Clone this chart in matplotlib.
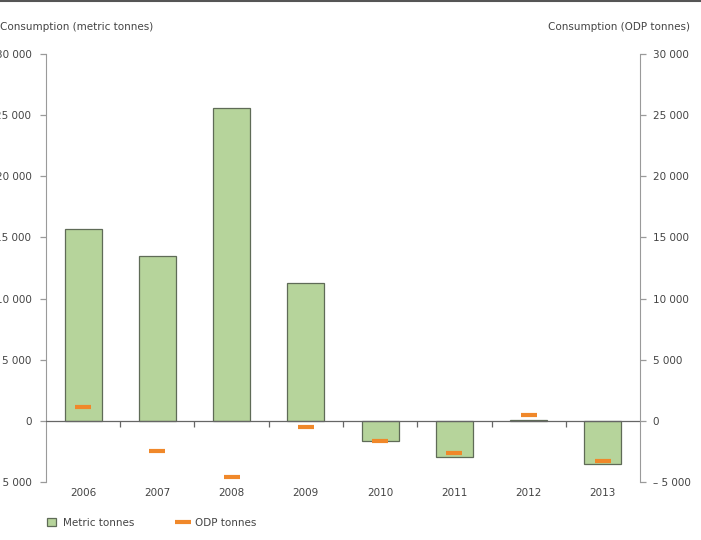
import matplotlib
matplotlib.use('Agg')
import matplotlib.pyplot as plt
import matplotlib.ticker as mticker
from matplotlib.patches import Patch
from matplotlib.lines import Line2D
import numpy as np

# data
years = ['2006', '2007', '2008', '2009', '2010', '2011', '2012', '2013']
metric_tonnes = [15700, 13500, 25600, 11300, -1650, -2950, 50, -3500]
odp_tonnes = [1150, -2450, -4600, -480, -1650, -2650, 480, -3270]
yticks = [-5000, 0, 5000, 10000, 15000, 20000, 25000, 30000]

GREEN = '#b6d49b'
EDGE = '#5f6b57'
ORANGE = '#f0882a'
AXC = '#9a9a9a'
TXT = '#444444'
FS = 7.5

plt.rcParams.update({'font.family': 'DejaVu Sans', 'font.size': FS})


def fmt(v, _):
    s = f'{abs(v):,.0f}'.replace(',', ' ')
    return ('\u2013 ' + s) if v < 0 else s


fig = plt.figure(figsize=(7.01, 5.40), dpi=100)
ax = fig.add_axes([0.0656, 0.1074, 0.8474, 0.7926])
x = np.arange(len(years))

ax.bar(x, metric_tonnes, width=0.5, color=GREEN, edgecolor=EDGE, linewidth=0.9, zorder=2)
ax.axhline(0, color='#666666', linewidth=0.9, zorder=3)

ax.set_xlim(-0.5, len(years) - 0.5)
ax.set_ylim(-5000, 30000)
ax.set_yticks(yticks)
ax.yaxis.set_major_formatter(mticker.FuncFormatter(fmt))

for s in ['top', 'right', 'bottom']:
    ax.spines[s].set_visible(False)
ax.spines['left'].set_color(AXC)
ax.tick_params(axis='y', colors=AXC, labelcolor=TXT, length=4, width=0.9, pad=6.5, labelsize=FS)

# category labels below the plot, small ticks on the zero line between categories
ax.set_xticks([])
for i, yr in enumerate(years):
    ax.annotate(yr, (i, -5000), xytext=(0, -4), textcoords='offset points',
                ha='center', va='top', color=TXT, fontsize=FS, annotation_clip=False)
bounds = np.arange(0.5, len(years) - 0.5, 1.0)
ax.plot(bounds, np.zeros_like(bounds), linestyle='none', marker=3, markersize=4,
        color='#666666', markeredgewidth=0.9, zorder=3)

ax2 = ax.twinx()
ax2.set_ylim(-5000, 30000)
ax2.set_yticks(yticks)
ax2.yaxis.set_major_formatter(mticker.FuncFormatter(fmt))
for s in ['top', 'left', 'bottom']:
    ax2.spines[s].set_visible(False)
ax2.spines['right'].set_color(AXC)
ax2.tick_params(axis='y', colors=AXC, labelcolor=TXT, length=4, width=0.9, pad=5, labelsize=FS)
ax2.plot(x, odp_tonnes, linestyle='none', marker='_', markersize=12,
         markeredgewidth=3, color=ORANGE, zorder=4)

fig.text(0.0, 0.95, 'Consumption (metric tonnes)', ha='left', va='center', color=TXT, fontsize=FS)
fig.text(0.984, 0.95, 'Consumption (ODP tonnes)', ha='right', va='center', color=TXT, fontsize=FS)

# top rule
fig.add_artist(Line2D([0, 1], [0.998, 0.998], color='#555555', linewidth=1.5,
                      transform=fig.transFigure))

handles = [Patch(facecolor=GREEN, edgecolor=EDGE, linewidth=0.9, label='Metric tonnes'),
           Line2D([], [], linestyle='none', marker='_', markersize=11, markeredgewidth=3,
                  color=ORANGE, label='ODP tonnes')]
fig.legend(handles=handles, loc='center left', bbox_to_anchor=(0.054, 0.032), ncol=2,
           frameon=False, fontsize=FS, handlelength=0.8, handleheight=0.8,
           columnspacing=4.2, handletextpad=0.75, labelcolor=TXT)

fig.savefig('out.png', dpi=100)
